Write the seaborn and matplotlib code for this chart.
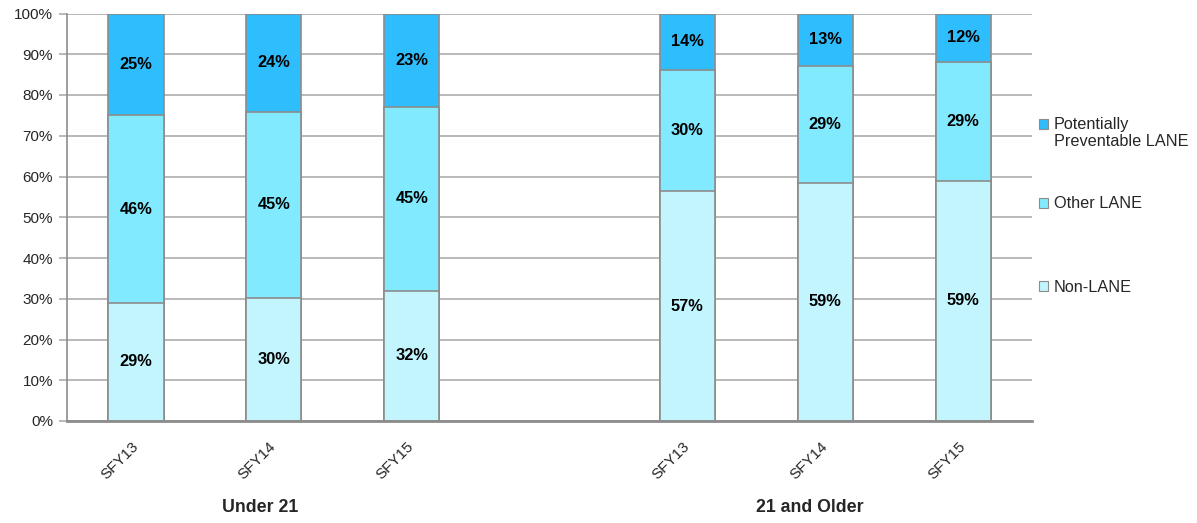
import matplotlib
matplotlib.use("Agg")
import matplotlib.pyplot as plt
import seaborn as sns
import pandas as pd
import numpy as np
from matplotlib.patches import Patch

# ---- data ----
keys = ["U21_SFY13", "U21_SFY14", "U21_SFY15", "gap", "O21_SFY13", "O21_SFY14", "O21_SFY15"]
tick_labels = ["SFY13", "SFY14", "SFY15", "", "SFY13", "SFY14", "SFY15"]
bar_keys = ["U21_SFY13", "U21_SFY14", "U21_SFY15", "O21_SFY13", "O21_SFY14", "O21_SFY15"]
non_lane = [29, 30, 32, 57, 59, 59]
other_lane = [46, 45, 45, 30, 29, 29]
prev_lane = [25, 24, 23, 14, 13, 12]
groups = ["Under 21", "21 and Older"]
series_names = ["Potentially\nPreventable LANE", "Other LANE", "Non-LANE"]
colors = {"prev": "#2EBDFD", "other": "#82EAFF", "non": "#C2F5FD"}

df = pd.DataFrame({"key": bar_keys, "non": non_lane, "other": other_lane, "prev": prev_lane})
tot = df[["non", "other", "prev"]].sum(axis=1)
df["cum_non"] = df["non"] / tot * 100
df["cum_other"] = (df["non"] + df["other"]) / tot * 100
df["cum_prev"] = (df["non"] + df["other"] + df["prev"]) / tot * 100

sns.set_theme(style="white")
plt.rcParams["font.family"] = ["Liberation Sans", "DejaVu Sans"]

fig = plt.figure(figsize=(11.97, 5.23), dpi=100)
ax = fig.add_axes([67 / 1197, 1 - 421 / 523, (1032 - 67) / 1197, (421 - 13.5) / 523])

edge = "#8C8C8C"
for col, c in [("cum_prev", colors["prev"]), ("cum_other", colors["other"]), ("cum_non", colors["non"])]:
    sns.barplot(data=df, x="key", y=col, order=keys, color=c, width=0.4,
                edgecolor=edge, linewidth=1.2, saturation=1, ax=ax, errorbar=None)

# data labels
pos = {k: i for i, k in enumerate(keys)}
for _, r in df.iterrows():
    x = pos[r["key"]]
    segs = [(0, r["cum_non"], r["non"]), (r["cum_non"], r["cum_other"], r["other"]),
            (r["cum_other"], r["cum_prev"], r["prev"])]
    for lo, hi, v in segs:
        ax.text(x, (lo + hi) / 2, f"{v}%", ha="center", va="center",
                fontsize=11.8, fontweight="bold", color="black")

ax.set_xlim(-0.5, 6.5)
ax.set_ylim(0, 100)
ax.set_yticks(np.arange(0, 101, 10))
ax.set_yticklabels([f"{v}%" for v in range(0, 101, 10)], fontsize=11)
ax.set_xticks(range(len(keys)))
ax.set_xticklabels(tick_labels, rotation=45, ha="right", va="center",
                   rotation_mode="anchor", fontsize=11)
ax.set_xlabel("")
ax.set_ylabel("")
ax.yaxis.grid(True, color="#A6A6A6", linewidth=1.1)
ax.set_axisbelow(True)
ax.tick_params(axis="y", which="both", length=6, color="#A6A6A6", width=1.1, pad=4, left=True)
ax.tick_params(axis="x", length=0, pad=17)
for s in ["top", "right"]:
    ax.spines[s].set_visible(False)
ax.spines["left"].set_color(edge)
ax.spines["left"].set_linewidth(1.2)
ax.spines["bottom"].set_color(edge)
ax.spines["bottom"].set_linewidth(2)

# group labels
tr = ax.get_xaxis_transform()
ax.text(0.9, -0.213, groups[0], transform=tr, ha="center", va="center",
        fontsize=12.8, fontweight="bold")
ax.text(4.89, -0.213, groups[1], transform=tr, ha="center", va="center",
        fontsize=12.8, fontweight="bold")

# legend (one entry per legend, to reproduce the uneven vertical spacing)
handles = [Patch(facecolor=colors["prev"], edgecolor=edge, linewidth=0.8),
           Patch(facecolor=colors["other"], edgecolor=edge, linewidth=0.8),
           Patch(facecolor=colors["non"], edgecolor=edge, linewidth=0.8)]
first_line, second_line = series_names[0].split("\n")
leg_y = [125, 204, 287]
leg_labels = [first_line, series_names[1], series_names[2]]
for h, lab, yy in zip(handles, leg_labels, leg_y):
    fig.legend([h], [lab], loc="center left", bbox_to_anchor=(1039 / 1197, 1 - yy / 523),
               frameon=False, fontsize=11.7, handlelength=0.55, handleheight=0.55,
               handletextpad=0.35, borderaxespad=0, borderpad=0)
fig.text(1054 / 1197, 1 - 142 / 523, second_line, ha="left", va="center", fontsize=11.7)

fig.savefig("out.png", dpi=100)
